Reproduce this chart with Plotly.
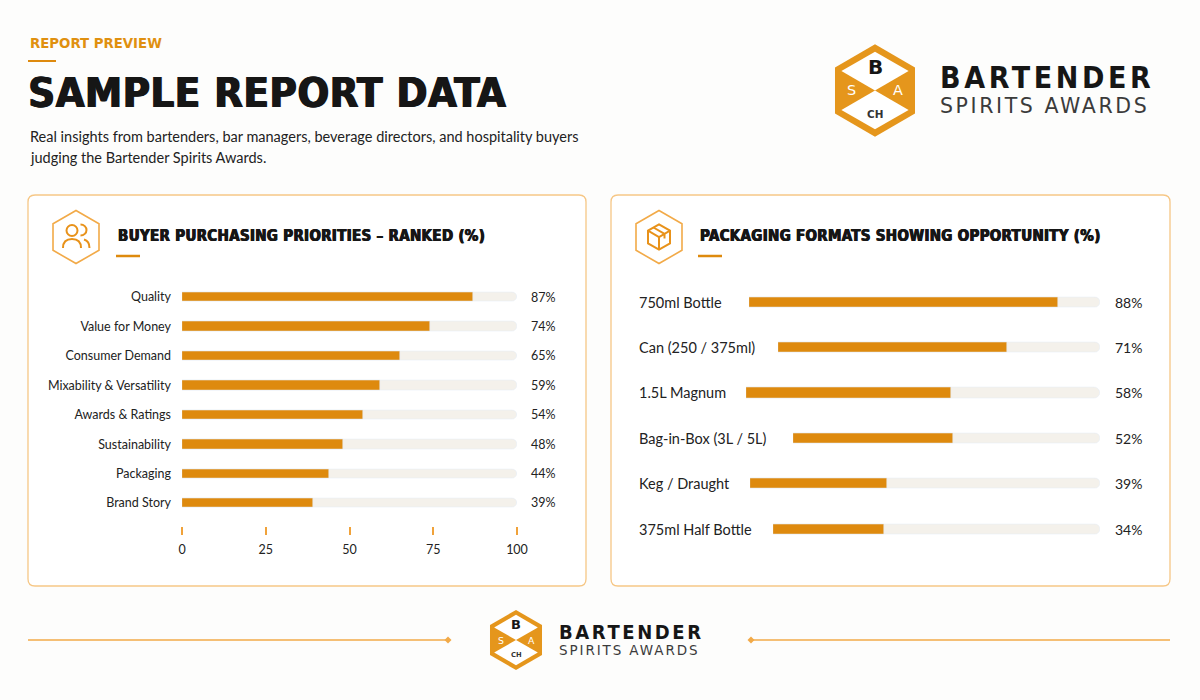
import math
import plotly.graph_objects as go

# ---------------- data ----------------
priority_labels = ["Quality", "Value for Money", "Consumer Demand", "Mixability & Versatility",
                   "Awards & Ratings", "Sustainability", "Packaging", "Brand Story"]
priority_values = [87, 74, 65, 59, 54, 48, 44, 39]
priority_ticks = [0, 25, 50, 75, 100]

format_labels = ["750ml Bottle", "Can (250 / 375ml)", "1.5L Magnum", "Bag-in-Box (3L / 5L)",
                 "Keg / Draught", "375ml Half Bottle"]
format_values = [88, 71, 58, 52, 39, 34]

# ---------------- style / layout constants ----------------
W, H = 1200, 700
ORANGE = "#de8a0e"
ORANGE_LT = "#f2aa48"
BORDER = "#f6c786"
TRACK = "#f4f1eb"
INK = "#161616"
TEXT = "#222222"
BODY_FONT = "Lato"
HEAVY_FONT = "DejaVu Sans Condensed"
LOGO_FONT = "DejaVu Sans"
# left x-pixel where each packaging bar starts (flex layout after the label)
format_bar_start_px = [749, 778, 746, 793, 750, 773]
format_track_end_px = 1100


def X(px):
    return px / W


def Y(py):
    return 1 - py / H


def path_px(cmds):
    out = []
    for c in cmds:
        op = c[0]
        pts = c[1:]
        s = op
        for i in range(0, len(pts), 2):
            s += f" {X(pts[i]):.5f},{Y(pts[i + 1]):.5f}"
        out.append(s)
    return " ".join(out)


def rrect(x0, y0, x1, y1, r):
    return path_px([("M", x0 + r, y0), ("L", x1 - r, y0), ("Q", x1, y0, x1, y0 + r),
                    ("L", x1, y1 - r), ("Q", x1, y1, x1 - r, y1), ("L", x0 + r, y1),
                    ("Q", x0, y1, x0, y1 - r), ("L", x0, y0 + r), ("Q", x0, y0, x0 + r, y0), ("Z",)])


def hex_pts(cx, cy, w):
    hw = w / 2
    s = w / math.sqrt(3)
    return [(cx, cy - s), (cx + hw, cy - s / 2), (cx + hw, cy + s / 2),
            (cx, cy + s), (cx - hw, cy + s / 2), (cx - hw, cy - s / 2)]


def poly(pts):
    cmds = [("M",) + pts[0]] + [("L",) + p for p in pts[1:]] + [("Z",)]
    return path_px(cmds)


shapes = []
annotations = []


def spaced(s, px):
    return f'<span style="letter-spacing:{px}px">{s}</span>'


def line(x0, y0, x1, y1, color, width):
    shapes.append(dict(type="line", xref="paper", yref="paper", x0=X(x0), y0=Y(y0), x1=X(x1), y1=Y(y1),
                       line=dict(color=color, width=width), layer="above"))


def text(x, y, s, size, color=TEXT, family=BODY_FONT, weight="normal", xanchor="left", yanchor="middle",
         shadow="none"):
    annotations.append(dict(x=X(x), y=Y(y), xref="paper", yref="paper", text=s, showarrow=False,
                            xanchor=xanchor, yanchor=yanchor,
                            font=dict(size=size, color=color, family=family, weight=weight, shadow=shadow)))


def logo(cx, cy, w, big, small, sp_big, sp_small):
    pts = hex_pts(cx, cy, w)
    shapes.append(dict(type="path", xref="paper", yref="paper", path=poly(pts),
                       fillcolor="#e5961c", line=dict(width=0), layer="above"))
    inner = hex_pts(cx, cy, w * 0.84)
    shapes.append(dict(type="path", xref="paper", yref="paper",
                       path=poly([inner[5], inner[0], inner[1], (cx, cy)]),
                       fillcolor="white", line=dict(width=0), layer="above"))
    shapes.append(dict(type="path", xref="paper", yref="paper",
                       path=poly([inner[4], (cx, cy), inner[2], inner[3]]),
                       fillcolor="white", line=dict(width=0), layer="above"))
    s = w / math.sqrt(3)
    text(cx, cy - s * 0.5, "B", w * 0.25, INK, LOGO_FONT, "bold", "center")
    text(cx - w * 0.29, cy, "S", w * 0.18, "white", LOGO_FONT, "normal", "center")
    text(cx + w * 0.29, cy, "A", w * 0.18, "white", LOGO_FONT, "normal", "center")
    text(cx, cy + s * 0.5, "CH", w * 0.13, "#333333", LOGO_FONT, "bold", "center")
    tx = cx + w / 2 + 23 * w / 80
    text(tx, cy - 13 * big / 31, spaced("BARTENDER", sp_big), big, INK, HEAVY_FONT, "bold")
    text(tx, cy + 16 * big / 31, spaced("SPIRITS AWARDS", sp_small), small, "#3b3b3b", LOGO_FONT, "normal")


HEAVY_SHADOW = "0.6px 0 0 #161616, -0.4px 0 0 #161616"

# ---------------- header ----------------
text(28, 43, "REPORT PREVIEW", 14.8, "#e0900f", HEAVY_FONT, "bold")
line(28, 61, 56, 61, ORANGE, 2)
text(26, 92, spaced("SAMPLE REPORT DATA", 0.5), 41.5, INK, HEAVY_FONT, "bold",
     shadow="1px 0 0 #161616, -0.5px 0 0 #161616")
text(28, 136, "Real insights from bartenders, bar managers, beverage directors, and hospitality buyers", 14.5, TEXT)
text(28, 157, "judging the Bartender Spirits Awards.", 14.5, TEXT)
logo(875, 90.5, 80, 30, 20.5, 3.6, 2.6)

# ---------------- panels ----------------
for (x0, x1) in [(28, 586), (611, 1170)]:
    shapes.append(dict(type="path", xref="paper", yref="paper", path=rrect(x0, 195, x1, 586, 7),
                       fillcolor="white", line=dict(color=BORDER, width=1.3), layer="below"))

# panel icons
for cx in (76, 659):
    shapes.append(dict(type="path", xref="paper", yref="paper", path=poly(hex_pts(cx, 237, 46)),
                       fillcolor="rgba(0,0,0,0)", line=dict(color=ORANGE_LT, width=1.6), layer="above"))
ic = dict(color="#e8921a", width=2)
# people icon
shapes.append(dict(type="circle", xref="paper", yref="paper", x0=X(66.5), x1=X(77.5), y0=Y(225), y1=Y(236),
                   line=ic, layer="above"))
shapes.append(dict(type="path", xref="paper", yref="paper",
                   path=path_px([("M", 63, 248), ("C", 63, 242, 66.5, 239, 72, 239), ("C", 77.5, 239, 81, 242, 81, 248)]),
                   line=ic, layer="above"))
shapes.append(dict(type="path", xref="paper", yref="paper",
                   path=path_px([("M", 80.5, 224.5), ("C", 84, 224.5, 86.5, 227, 86.5, 230), ("C", 86.5, 233, 84, 235.5, 80.5, 235.5)]),
                   line=ic, layer="above"))
shapes.append(dict(type="path", xref="paper", yref="paper",
                   path=path_px([("M", 84, 239.5), ("C", 87.5, 240.5, 89.5, 243, 89.5, 248)]),
                   line=ic, layer="above"))
# box icon
bx = hex_pts(659, 237, 22)
shapes.append(dict(type="path", xref="paper", yref="paper", path=poly(bx), line=ic, layer="above"))
shapes.append(dict(type="path", xref="paper", yref="paper",
                   path=path_px([("M",) + bx[5], ("L", 659, 237), ("L",) + bx[1], ("M", 659, 237), ("L",) + bx[3],
                                  ("M", 653.5, 227.5), ("L", 664.5, 233.8), ("L", 664.5, 238.5)]),
                   line=ic, layer="above"))

# panel titles
text(116, 236, spaced("BUYER PURCHASING PRIORITIES – RANKED (%)", 0.3), 15, INK, HEAVY_FONT, "bold",
     shadow=HEAVY_SHADOW)
line(116, 256, 140, 256, ORANGE, 2.5)
text(698, 236, spaced("PACKAGING FORMATS SHOWING OPPORTUNITY (%)", 0.3), 15, INK, HEAVY_FONT, "bold",
     shadow=HEAVY_SHADOW)
line(698, 256, 722, 256, ORANGE, 2.5)

# ---------------- footer ----------------
line(28, 640, 446, 640, ORANGE_LT, 1.6)
line(753, 640, 1170, 640, ORANGE_LT, 1.6)
for dx in (448, 751):
    shapes.append(dict(type="path", xref="paper", yref="paper",
                       path=poly([(dx, 636.5), (dx + 3.5, 640), (dx, 643.5), (dx - 3.5, 640)]),
                       fillcolor=ORANGE_LT, line=dict(width=0), layer="above"))
logo(516, 640, 52, 20, 13.5, 2.6, 1.9)

# ---------------- left chart ----------------
fig = go.Figure()
fig.add_trace(go.Bar(x=[100] * len(priority_labels), y=priority_labels, orientation="h",
                     marker=dict(color=TRACK, cornerradius="50%"), width=0.32,
                     hoverinfo="skip", xaxis="x", yaxis="y"))
fig.add_trace(go.Bar(x=priority_values, y=priority_labels, orientation="h",
                     marker=dict(color=ORANGE, cornerradius="50%"), width=0.32,
                     xaxis="x", yaxis="y"))
for lab, v in zip(priority_labels, priority_values):
    annotations.append(dict(x=X(529), xref="paper", y=lab, yref="y", text=f"{v}%", showarrow=False,
                            xanchor="left", yanchor="middle",
                            font=dict(size=12.5, color=TEXT, family=BODY_FONT)))

# ---------------- right chart ----------------
for i, (lab, v) in enumerate(zip(format_labels, format_values)):
    ax = f"x{i + 2}"
    fig.add_trace(go.Bar(x=[100], y=[lab], orientation="h", marker=dict(color=TRACK, cornerradius="50%"),
                         width=0.225, hoverinfo="skip", xaxis=ax, yaxis="y2"))
    fig.add_trace(go.Bar(x=[v], y=[lab], orientation="h", marker=dict(color=ORANGE, cornerradius="50%"),
                         width=0.225, xaxis=ax, yaxis="y2"))
    annotations.append(dict(x=X(637), xref="paper", y=lab, yref="y2", text=lab, showarrow=False,
                            xanchor="left", yanchor="middle",
                            font=dict(size=14.5, color=TEXT, family=BODY_FONT)))
    annotations.append(dict(x=X(1113), xref="paper", y=lab, yref="y2", text=f"{v}%", showarrow=False,
                            xanchor="left", yanchor="middle",
                            font=dict(size=14, color=TEXT, family=BODY_FONT)))

row_l = 29.4
row_r = 45.4
layout_axes = dict(
    xaxis=dict(domain=[X(182), X(517)], range=[0, 100], anchor="free", position=Y(526),
               tickvals=priority_ticks, ticktext=[str(t) for t in priority_ticks],
               ticks="outside", ticklen=8, tickwidth=1.5, tickcolor="#f0a23a",
               showline=False, showgrid=False, zeroline=False, fixedrange=True, automargin=False,
               ticklabelstandoff=4,
               tickfont=dict(size=12.5, color=TEXT, family=BODY_FONT)),
    yaxis=dict(domain=[Y(503 + row_l / 2), Y(297 - row_l / 2)], anchor="x", autorange="reversed",
               type="category", showgrid=False, showline=False, zeroline=False, ticks="",
               automargin=False, fixedrange=True,
               ticklabelstandoff=10, tickfont=dict(size=12.5, color=TEXT, family=BODY_FONT)),
    yaxis2=dict(domain=[Y(529 + row_r / 2), Y(302 - row_r / 2)], anchor="x2", autorange="reversed",
                type="category", visible=False, automargin=False, fixedrange=True),
)
for i, sp in enumerate(format_bar_start_px):
    layout_axes[f"xaxis{i + 2}"] = dict(domain=[X(sp), X(format_track_end_px)], range=[0, 100],
                                        anchor="y2", visible=False, fixedrange=True, automargin=False)

fig.update_layout(
    width=W, height=H, autosize=False, margin=dict(l=0, r=0, t=0, b=0, pad=0),
    paper_bgcolor="#fdfdfc", plot_bgcolor="rgba(0,0,0,0)",
    barmode="overlay", showlegend=False, bargap=0,
    shapes=shapes, annotations=annotations, **layout_axes,
)
fig.write_html("out.html", config={"responsive": False, "displayModeBar": False},
               post_script="document.body.style.margin='0';document.body.style.overflow='hidden';")
